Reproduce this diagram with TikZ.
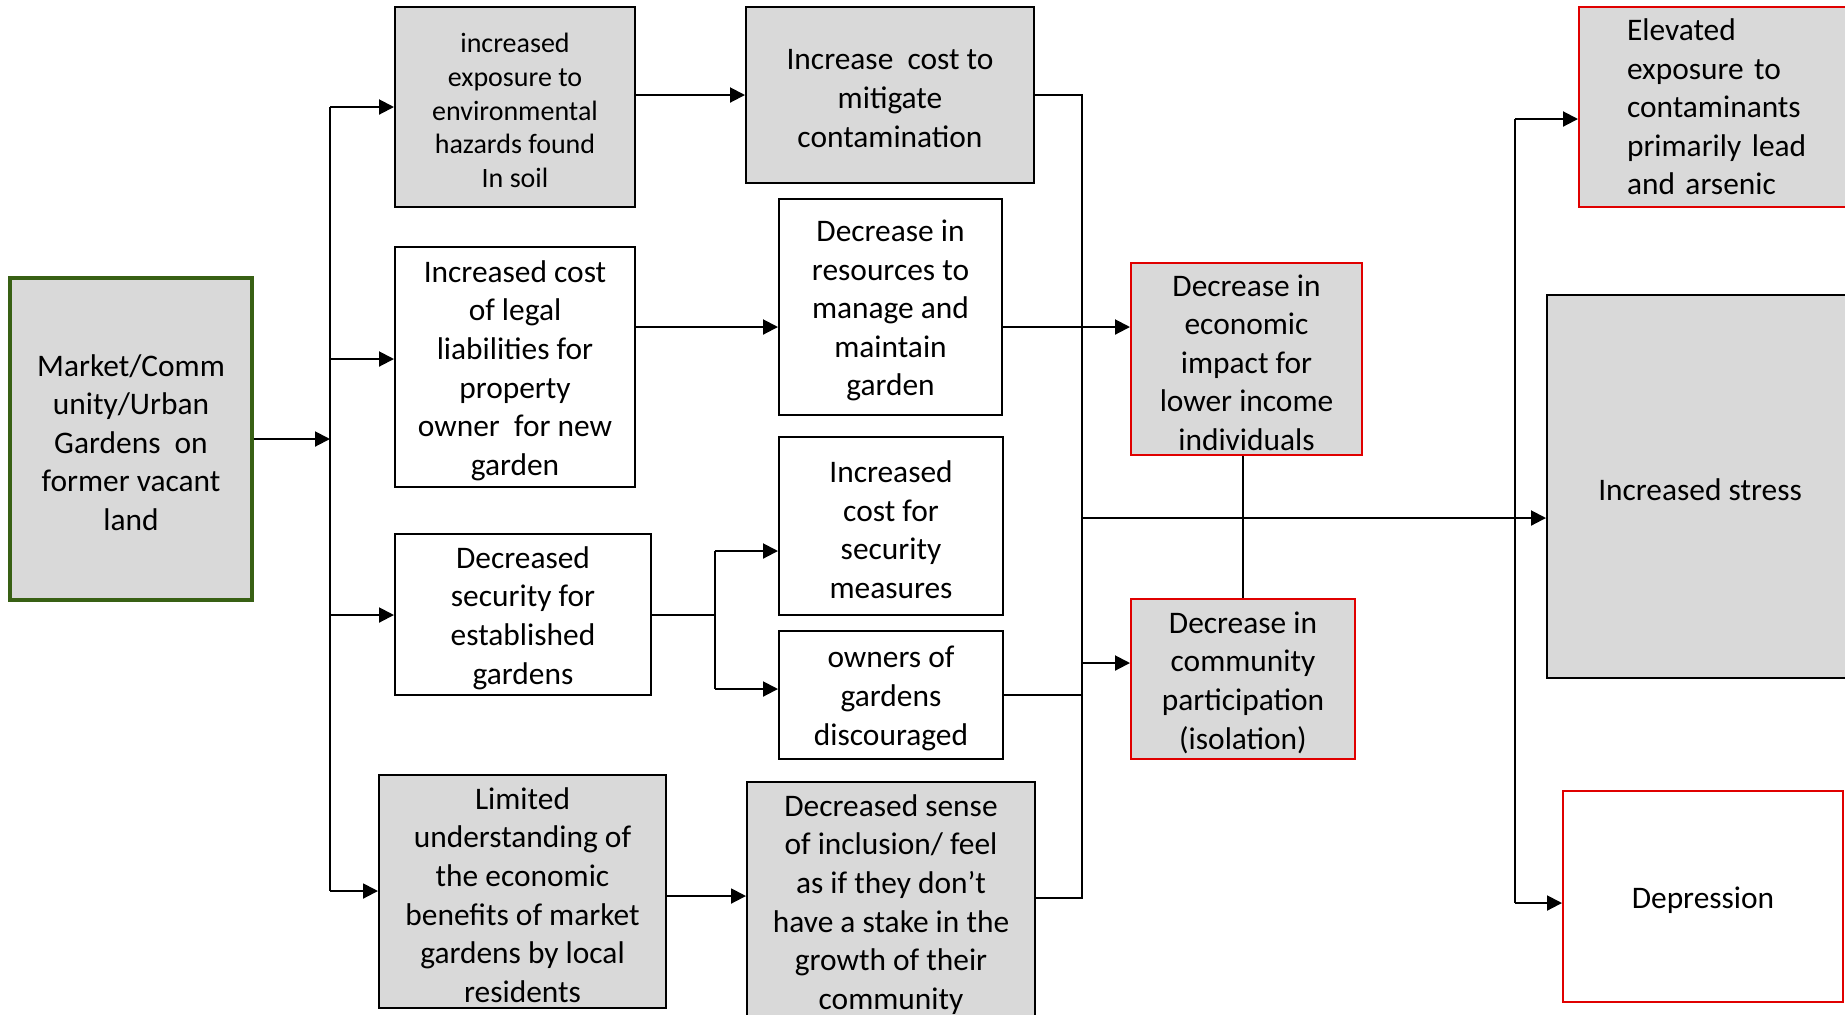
\documentclass[tikz,border=0pt]{standalone}
\usepackage{fontspec}
\setmainfont{Carlito}
\usetikzlibrary{arrows.meta}
\definecolor{boxgray}{RGB}{217,217,217}
\definecolor{boxred}{RGB}{224,0,0}
\definecolor{boxgreen}{RGB}{56,96,20}
\tikzset{
  bx/.style={draw=black, line width=1pt, rectangle, inner sep=0pt},
  gbx/.style={bx, fill=boxgray},
  rbx/.style={bx, draw=boxred, fill=boxgray},
  lbl/.style={align=center, inner sep=0pt, yshift=-1.75pt, font=\fontsize{15.7}{19.3}\selectfont},
  lblsmall/.style={lbl, font=\fontsize{14}{16.9}\selectfont},
  txt/.style={label={[lbl]center:{#1}}},
  txtsmall/.style={label={[lblsmall]center:{#1}}},
  conn/.style={line width=1pt},
  arr/.style={conn, -{Triangle[length=7.5pt,width=7.5pt]}},
}
\begin{document}
\begin{tikzpicture}[x=0.5pt,y=-0.5pt]
\clip (0,0) rectangle (1845,1014);
\fill[white] (0,0) rectangle (1845,1014);
% nodes
\node[gbx, draw=boxgreen, line width=1.6pt, minimum width=121pt, minimum height=161pt,
  txt={Market/Comm\\unity/Urban\\Gardens\ \ on\\former vacant\\land}] (root) at (131,439) {};
\node[gbx, minimum width=120pt, minimum height=100pt,
  txtsmall={increased\\exposure to\\environmental\\hazards found\\In soil}] (A) at (515,107) {};
\node[bx, minimum width=120pt, minimum height=120pt,
  txt={Increased cost\\of legal\\liabilities for\\property\\owner\ \ for new\\garden}] (B) at (515,367) {};
\node[bx, minimum width=128pt, minimum height=80.5pt,
  txt={Decreased\\security for\\established\\gardens}] (C) at (523,614.5) {};
\node[gbx, minimum width=143.5pt, minimum height=116.5pt,
  txt={Limited\\understanding of\\the economic\\benefits of market\\gardens by local\\residents}] (D) at (522.5,891.5) {};
\node[gbx, minimum width=144pt, minimum height=88pt,
  txt={Increase\ \ cost to\\mitigate\\contamination}] (E) at (890,95) {};
\node[bx, minimum width=111.5pt, minimum height=108pt,
  txt={Decrease in\\resources to\\manage and\\maintain\\garden}] (F) at (890.5,307) {};
\node[bx, minimum width=112pt, minimum height=89pt,
  txt={Increased\\cost for\\security\\measures}] (G) at (891,526) {};
\node[bx, minimum width=112pt, minimum height=64pt,
  txt={owners of\\gardens\\discouraged}] (H) at (891,695) {};
\node[gbx, minimum width=144pt, minimum height=119pt,
  txt={Decreased sense\\of inclusion/ feel\\as if they don’t\\have a stake in the\\growth of their\\community}] (I) at (891,901) {};
\node[rbx, minimum width=115.5pt, minimum height=96pt,
  txt={Decrease in\\economic\\impact for\\lower income\\individuals}] (J) at (1246.5,359) {};
\node[rbx, minimum width=112pt, minimum height=80pt,
  txt={Decrease in\\community\\participation\\(isolation)}] (K) at (1243,679) {};
\node[rbx, anchor=west, minimum height=100pt, align=left, text width=100pt, inner xsep=24pt,
  font=\fontsize{15.7}{19.3}\selectfont] (L) at (1578,107)
  {Elevated\\exposure to\\contaminants\\primarily lead\\and arsenic};
\node[gbx, minimum width=153pt, minimum height=191.5pt,
  txt={Increased stress}] (M) at (1700,486.5) {};
\node[bx, draw=boxred, minimum width=140pt, minimum height=105.5pt,
  txt={Depression}] (N) at (1703,896.5) {};
% left trunk
\coordinate (tr) at (330,439);
\coordinate (tA) at (330,107);
\coordinate (tB) at (330,359);
\coordinate (tC) at (330,615);
\coordinate (tD) at (330,891);
\draw[arr] (root.east) -- (tr);
\draw[conn] (tA) -- (tD);
\draw[arr] (tA) -- (A.west);
\draw[arr] (tB) -- (tB -| B.west);
\draw[arr] (tC) -- (tC -| C.west);
\draw[arr] (tD) -- (tD -| D.west);
% second column
\coordinate (yAE) at (0,95);
\draw[arr] (A.east |- yAE) -- (E.west |- yAE);
\coordinate (yBF) at (0,327);
\draw[arr] (B.east |- yBF) -- (F.west |- yBF);
\coordinate (sC) at (715,615);
\coordinate (sG) at (715,551);
\coordinate (sH) at (715,689);
\draw[conn] (C.east |- sC) -- (sC);
\draw[conn] (sG) -- (sH);
\draw[arr] (sG) -- (sG -| G.west);
\draw[arr] (sH) -- (sH -| H.west);
\coordinate (yDI) at (0,896);
\draw[arr] (D.east |- yDI) -- (I.west |- yDI);
% right trunk
\coordinate (rE) at (1082,95);
\coordinate (rH) at (1082,695);
\coordinate (rI) at (1082,898);
\coordinate (rM) at (1082,518);
\coordinate (rK) at (1082,663);
\draw[conn] (E.east |- rE) -- (rE) -- (rI) -- (I.east |- rI);
\draw[conn] (H.east |- rH) -- (rH);
\draw[arr] (F.east |- yBF) -- (J.west |- yBF);
\draw[arr] (rM) -- (rM -| M.west);
\draw[arr] (rK) -- (rK -| K.west);
\draw[conn] (K.north) -- (K.north |- J.south);
% far right trunk
\coordinate (qL) at (1515,119);
\coordinate (qN) at (1515,903);
\draw[conn] (qL) -- (qN);
\draw[arr] (qL) -- (qL -| L.west);
\draw[arr] (qN) -- (qN -| N.west);
\end{tikzpicture}
\end{document}
